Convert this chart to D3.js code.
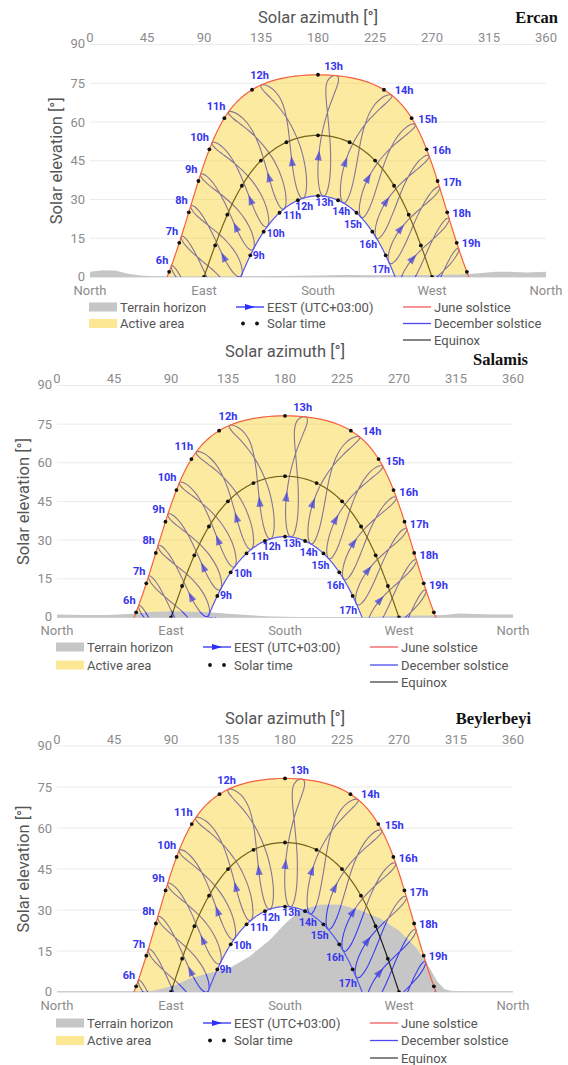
<!DOCTYPE html>
<html>
<head>
<meta charset="utf-8">
<script src="https://cdn.jsdelivr.net/npm/d3@7"></script>
<style>
  body { margin: 0; background: #fff; }
  svg { display: block; font-family: Roboto, "Noto Sans", sans-serif; }
</style>
</head>
<body>
<svg id="chart" width="568" height="1065"></svg>
<script>
// ---- Sites ----
const siteNames  = ["Ercan", "Salamis", "Beylerbeyi"];
const latitudes  = [35.155, 35.185, 35.306];
const longitudes = [33.496, 33.900, 33.355];
const utcOffset  = 3; // EEST (UTC+03:00)

// ---- Axis ticks ----
const azimuthTicks   = [0, 45, 90, 135, 180, 225, 270, 315, 360];
const elevationTicks = [0, 15, 30, 45, 60, 75, 90];
const compassNames   = ["North", "East", "South", "West", "North"];
const compassAzimuth = [0, 90, 180, 270, 360];

// ---- Clock hours (EEST) for the analemmas, solar hours for the dots ----
const clockHours = [5, 6, 7, 8, 9, 10, 11, 12, 13, 14, 15, 16, 17, 18, 19, 20];
const solarHours = [4, 5, 6, 7, 8, 9, 10, 11, 12, 13, 14, 15, 16, 17, 18, 19, 20];

// ---- Almanac: sun declination [deg] and equation of time [min] ----
const almanacDates = ["Jan 1","Jan 11","Jan 21","Feb 1","Feb 11","Feb 21","Mar 1","Mar 11","Mar 21",
  "Apr 1","Apr 11","Apr 21","May 1","May 11","May 21","Jun 1","Jun 11","Jun 21","Jul 1","Jul 11","Jul 21",
  "Aug 1","Aug 11","Aug 21","Sep 1","Sep 11","Sep 21","Oct 1","Oct 11","Oct 21","Nov 1","Nov 11","Nov 21",
  "Dec 1","Dec 11","Dec 21"];
const declination = [-23.0,-21.8,-20.0,-17.1,-14.2,-10.9,-7.8,-4.0,0.0,
  4.4,8.2,11.8,15.0,17.8,20.1,22.0,23.1,23.44,23.1,22.1,20.6,
  18.1,15.5,12.4,8.4,4.7,0.9,-3.0,-6.8,-10.6,-14.4,-17.3,-19.8,
  -21.8,-23.0,-23.44];
const equationOfTime = [-3.4,-7.8,-11.1,-13.5,-14.2,-13.8,-12.4,-10.2,-7.4,
  -4.0,-1.2,1.2,2.9,3.6,3.5,2.3,0.6,-1.5,-3.7,-5.4,-6.4,
  -6.3,-5.2,-3.3,-0.1,3.0,6.5,10.1,13.0,15.2,16.4,16.0,14.1,
  11.0,6.8,2.0];
const juneIndex = almanacDates.indexOf("Jun 21");
const decIndex  = almanacDates.indexOf("Dec 21");
const arrowIndex = almanacDates.indexOf("Mar 1");
const solsticeDecl = { june: 23.44, equinox: 0, december: -23.44 };

// ---- Terrain horizon profiles: azimuth [deg] / elevation [deg] ----
const ercanTerrainAz = [0, 10, 20, 30, 40, 50, 75, 105, 135, 165, 180, 200, 225, 250, 270, 290, 305, 320, 330, 345, 360];
const ercanTerrainEl = [2.0, 2.6, 2.5, 1.3, 0.6, 0.3, 0.2, 0.2, 0.3, 0.5, 0.6, 0.8, 0.7, 0.8, 0.8, 1.0, 1.4, 2.0, 2.0, 1.7, 2.0];
const salamisTerrainAz = [0, 20, 40, 60, 75, 90, 105, 120, 135, 150, 165, 180, 200, 220, 240, 260, 275, 290, 305, 318, 330, 345, 360];
const salamisTerrainEl = [1.2, 1.0, 1.0, 1.5, 2.2, 2.4, 2.3, 2.0, 1.5, 1.0, 0.5, 0.3, 0.1, 0.1, 0.2, 0.5, 0.8, 0.8, 1.0, 1.6, 1.4, 1.2, 1.2];
const beylerbeyiTerrainAz = [0, 60, 75, 81, 93, 105, 121, 137, 152, 168, 180, 192, 208, 223, 239, 255, 270, 284, 292, 300, 306, 312, 330, 360];
const beylerbeyiTerrainEl = [0.3, 0.3, 0.5, 1.0, 2.5, 5.0, 7.0, 9.0, 13.0, 19.0, 25.0, 30.0, 32.0, 32.0, 30.0, 27.0, 22.5, 16.0, 10.5, 4.0, 1.0, 0.4, 0.3, 0.3];
const terrainAz = [ercanTerrainAz, salamisTerrainAz, beylerbeyiTerrainAz];
const terrainEl = [ercanTerrainEl, salamisTerrainEl, beylerbeyiTerrainEl];

// ---- Legend ----
const legendLabels = ["Terrain horizon", "Active area", "EEST (UTC+03:00)", "Solar time", "June solstice", "December solstice", "Equinox"];

// ---- Page layout of the three diagrams ----
const panels = [
  { x0: 90, x1: 546, yTop: 44.5, yBot: 277,   titleY: 17,  nameX: 558, nameY: 17,  yTitleX: 56, rows: [307, 323.5, 340] },
  { x0: 57, x1: 513, yTop: 385.5, yBot: 617.5, titleY: 351, nameX: 528, nameY: 359, yTitleX: 23, rows: [647, 665, 682] },
  { x0: 57, x1: 513, yTop: 746,  yBot: 992,   titleY: 718, nameX: 531, nameY: 718, yTitleX: 23, rows: [1023, 1040.5, 1058] }
];

const colors = {
  grid: "#ebebeb", base: "#cfcfcf", tick: "#8c8c8c", title: "#555", legend: "#555",
  terrain: "#c6c6c6", active: "#f7ca11", analemma: "#3c3cf0", arrow: "#3434e4", june: "#f5603e",
  december: "#5656f0", equinox: "#1e1e1e", label: "#3434ee", dot: "#111"
};

const RAD = Math.PI / 180;
// Horizontal coordinates (azimuth from north, elevation) of the sun
function sunPosition(lat, decl, hourAngle) {
  const p = lat * RAD, d = decl * RAD, h = hourAngle * RAD;
  const sinEl = Math.sin(p) * Math.sin(d) + Math.cos(p) * Math.cos(d) * Math.cos(h);
  const el = Math.asin(sinEl) / RAD;
  const az = Math.atan2(Math.sin(h), Math.cos(h) * Math.sin(p) - Math.tan(d) * Math.cos(p)) / RAD + 180;
  return [az, el];
}
// Hour angle of the sun for a clock time on a given almanac date
function clockHourAngle(hour, lon, eot) {
  return 15 * (hour - utcOffset + lon / 15 + eot / 60 - 12);
}

const svg = d3.select("#chart");
const hourSweep = d3.range(-180, 180.5, 1);

panels.forEach((P, i) => {
  const lat = latitudes[i], lon = longitudes[i];
  const x = d3.scaleLinear().domain([0, 360]).range([P.x0, P.x1]);
  const y = d3.scaleLinear().domain([0, 90]).range([P.yBot, P.yTop]);
  const g = svg.append("g");
  const xy = d => [x(d[0]), y(d[1])];
  const line = d3.line().x(d => x(d[0])).y(d => y(d[1]));

  // gridlines
  g.selectAll(".grid").data(elevationTicks).join("line")
    .attr("x1", P.x0).attr("x2", P.x1)
    .attr("y1", d => y(d)).attr("y2", d => y(d))
    .attr("stroke", d => d === 0 ? colors.base : colors.grid).attr("stroke-width", 1);

  // elevation tick labels
  g.selectAll(".yt").data(elevationTicks).join("text")
    .attr("x", P.x0 - 5).attr("y", d => y(d) - (d === 90 ? 1 : (d === 0 ? 1 : 0)))
    .attr("text-anchor", "end").attr("dominant-baseline", "central")
    .attr("font-size", 13).attr("fill", colors.tick).text(d => d);

  // azimuth tick labels (top axis)
  g.selectAll(".xt").data(azimuthTicks).join("text")
    .attr("x", d => x(d)).attr("y", P.yTop - 7)
    .attr("text-anchor", "middle").attr("dominant-baseline", "central")
    .attr("font-size", 13).attr("fill", colors.tick).text(d => d);

  // compass labels (bottom)
  g.selectAll(".cp").data(compassAzimuth).join("text")
    .attr("x", d => x(d)).attr("y", P.yBot + 13)
    .attr("text-anchor", "middle").attr("dominant-baseline", "central")
    .attr("font-size", 13).attr("fill", colors.tick).text((d, k) => compassNames[k]);

  // titles
  g.append("text").attr("x", (P.x0 + P.x1) / 2).attr("y", P.titleY)
    .attr("text-anchor", "middle").attr("dominant-baseline", "central")
    .attr("font-size", 16.5).attr("fill", colors.title).text("Solar azimuth [°]");
  g.append("text").attr("transform", `translate(${P.yTitleX},${(P.yTop + P.yBot) / 2}) rotate(-90)`)
    .attr("text-anchor", "middle").attr("dominant-baseline", "central")
    .attr("font-size", 16.5).attr("fill", colors.title).text("Solar elevation [°]");
  g.append("text").attr("x", P.nameX).attr("y", P.nameY)
    .attr("text-anchor", "end").attr("dominant-baseline", "central")
    .attr("font-family", "'Liberation Serif', 'DejaVu Serif', serif").attr("font-weight", "bold")
    .attr("font-size", 16.5).attr("fill", "#111").text(siteNames[i]);

  // clip paths
  const defs = g.append("defs");
  defs.append("clipPath").attr("id", `plot${i}`).append("rect")
    .attr("x", P.x0).attr("y", P.yTop).attr("width", P.x1 - P.x0).attr("height", P.yBot - P.yTop);
  const terrain = terrainAz[i].map((a, k) => [a, terrainEl[i][k]]);
  defs.append("clipPath").attr("id", `sky${i}`).append("path")
    .attr("d", d3.area().x(d => x(d[0])).y0(P.yTop - 20).y1(d => y(d[1]))(terrain));

  const plot = g.append("g").attr("clip-path", `url(#plot${i})`);

  // terrain horizon
  plot.append("path")
    .attr("d", d3.area().x(d => x(d[0])).y0(P.yBot).y1(d => y(d[1]))(terrain))
    .attr("fill", colors.terrain);

  // analemmas for each clock hour
  const arrows = [];
  clockHours.forEach(h => {
    const pts = declination.map((dec, k) => sunPosition(lat, dec, clockHourAngle(h, lon, equationOfTime[k])));
    plot.append("path")
      .attr("d", d3.line().x(d => x(d[0])).y(d => y(d[1])).curve(d3.curveCatmullRomClosed.alpha(0.5))(pts))
      .attr("fill", "none").attr("stroke", colors.analemma).attr("stroke-width", 1.1);
    const a = xy(pts[arrowIndex]), b = xy(pts[arrowIndex + 1]);
    arrows.push([a[0], a[1], Math.atan2(b[1] - a[1], b[0] - a[0]) / RAD]);
  });

  // equinox path
  const eqPts = hourSweep.map(H => sunPosition(lat, solsticeDecl.equinox, H));
  plot.append("path").attr("d", line(eqPts)).attr("fill", "none")
    .attr("stroke", colors.equinox).attr("stroke-width", 1.2);

  // active area (between the solstices, above the terrain)
  const junePts = hourSweep.map(H => sunPosition(lat, solsticeDecl.june, H));
  const decPts  = hourSweep.map(H => sunPosition(lat, solsticeDecl.december, H));
  plot.append("g").attr("clip-path", `url(#sky${i})`).append("path")
    .attr("d", line(junePts.concat(decPts.slice().reverse())) + "Z")
    .attr("fill", colors.active).attr("fill-opacity", 0.4);

  // direction arrows on the analemmas
  arrows.forEach(a => {
    plot.append("path")
      .attr("d", "M5,0 L-5,-3.6 L-5,3.6 Z")
      .attr("transform", `translate(${a[0]},${a[1]}) rotate(${a[2]})`)
      .attr("fill", colors.arrow).attr("fill-opacity", 0.68);
  });

  // solstice paths
  plot.append("path").attr("d", line(junePts)).attr("fill", "none")
    .attr("stroke", colors.june).attr("stroke-width", 1.2);
  plot.append("path").attr("d", line(decPts)).attr("fill", "none")
    .attr("stroke", colors.december).attr("stroke-width", 1.2);

  // solar time dots
  [solsticeDecl.june, solsticeDecl.equinox, solsticeDecl.december].forEach(dec => {
    solarHours.forEach(s => {
      const p = sunPosition(lat, dec, 15 * (s - 12));
      if (p[1] < 0) return;
      plot.append("circle").attr("cx", x(p[0])).attr("cy", y(p[1])).attr("r", 1.9).attr("fill", colors.dot);
    });
  });

  // clock hour labels at the solstice ends of the analemmas
  clockHours.forEach(h => {
    const jp = sunPosition(lat, declination[juneIndex], clockHourAngle(h, lon, equationOfTime[juneIndex]));
    if (jp[1] > 0) {
      const anchor = h < 12 ? "end" : (h > 13 ? "start" : "middle");
      const dx = h < 12 ? -3 : (h > 13 ? 3 : -2);
      const dy = (h === 12 || h === 13) ? -9 : -5;
      plot.append("text").attr("x", x(jp[0]) + dx).attr("y", y(jp[1]) + dy)
        .attr("text-anchor", anchor).attr("dominant-baseline", "central")
        .attr("font-size", 11).attr("font-weight", "bold").attr("fill", colors.label).text(h + "h");
    }
    const dp = sunPosition(lat, declination[decIndex], clockHourAngle(h, lon, equationOfTime[decIndex]));
    if (dp[1] > 0) {
      // morning labels sit right of the path, afternoon labels left; noon trio side by side
      let anchor = h < 13 ? "start" : "end", dx = h < 12 ? -1 : 1, dy = 7;
      if (h === 12) { anchor = "end"; dx = 10; dy = 8; }
      if (h === 13) { anchor = "start"; dx = -8; dy = 6; }
      if (h === 14) { dx = 7; dy = 9; }
      plot.append("text").attr("x", x(dp[0]) + dx).attr("y", y(dp[1]) + dy)
        .attr("text-anchor", anchor).attr("dominant-baseline", "central")
        .attr("font-size", 10.5).attr("font-weight", "bold").attr("fill", colors.label).text(h + "h");
    }
  });

  // legend
  const L = g.append("g").attr("font-size", 13).attr("fill", colors.legend);
  const c1 = P.x0 - 1, c2 = P.x0 + 146, c3 = P.x0 + 313;
  const [r1, r2, r3] = P.rows;
  L.append("rect").attr("x", c1).attr("y", r1 - 4.5).attr("width", 28).attr("height", 9).attr("fill", colors.terrain);
  L.append("rect").attr("x", c1).attr("y", r2 - 4.5).attr("width", 28).attr("height", 9).attr("fill", colors.active).attr("fill-opacity", 0.45);
  L.append("line").attr("x1", c2).attr("x2", c2 + 28).attr("y1", r1).attr("y2", r1).attr("stroke", "#2d2dff").attr("stroke-width", 1.3);
  L.append("path").attr("d", `M${c2 + 19},${r1} L${c2 + 9},${r1 - 3} L${c2 + 9},${r1 + 3} Z`).attr("fill", "#2d2dff");
  L.append("circle").attr("cx", c2 + 7).attr("cy", r2).attr("r", 1.9).attr("fill", colors.dot);
  L.append("circle").attr("cx", c2 + 21).attr("cy", r2).attr("r", 1.9).attr("fill", colors.dot);
  L.append("line").attr("x1", c3).attr("x2", c3 + 28).attr("y1", r1).attr("y2", r1).attr("stroke", "#f55a5a").attr("stroke-width", 1.3);
  L.append("line").attr("x1", c3).attr("x2", c3 + 28).attr("y1", r2).attr("y2", r2).attr("stroke", "#4a4af5").attr("stroke-width", 1.3);
  L.append("line").attr("x1", c3).attr("x2", c3 + 28).attr("y1", r3).attr("y2", r3).attr("stroke", "#444").attr("stroke-width", 1.3);
  const texts = [[c1 + 31, r1], [c1 + 31, r2], [c2 + 31, r1], [c2 + 31, r2], [c3 + 31, r1], [c3 + 31, r2], [c3 + 31, r3]];
  texts.forEach((t, k) => {
    L.append("text").attr("x", t[0]).attr("y", t[1]).attr("dominant-baseline", "central").text(legendLabels[k]);
  });
});
</script>
</body>
</html>
